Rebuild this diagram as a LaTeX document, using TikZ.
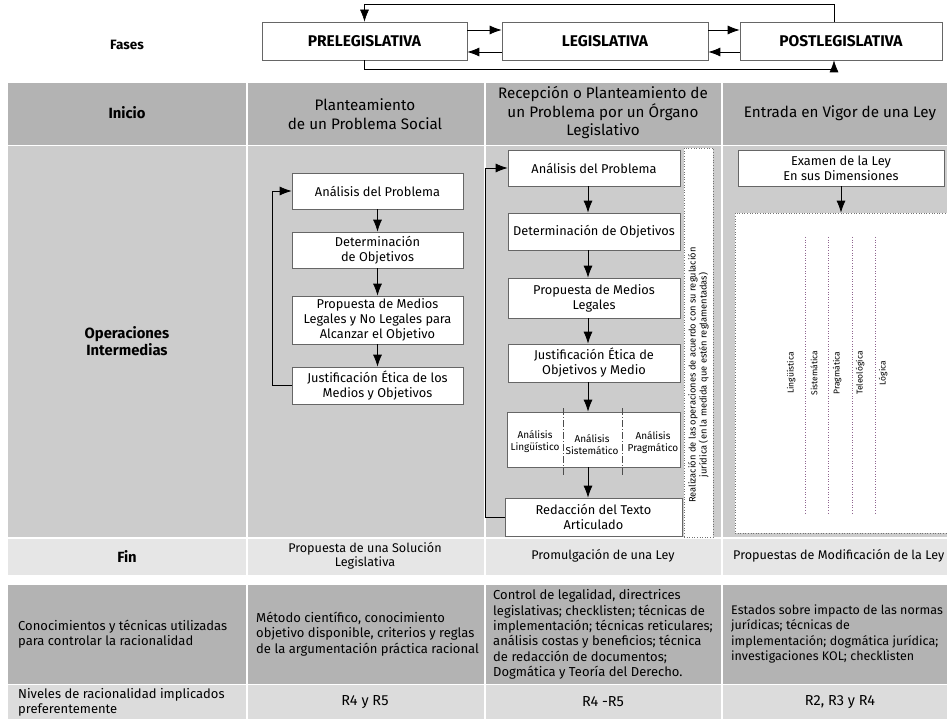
\documentclass[tikz,border=0pt]{standalone}
\usepackage{fontspec}
\setmainfont{Fira Sans}
\usetikzlibrary{arrows.meta}
\definecolor{hdr}{HTML}{B3B3B3}
\definecolor{ops}{HTML}{CCCCCC}
\definecolor{finc}{HTML}{E6E6E6}
\definecolor{nivc}{HTML}{DCDCDC}
\newcommand\fsz[2]{\fontsize{#1}{#2}\selectfont}
\begin{document}
\begin{tikzpicture}[x=1pt,y=-1pt,
  arr/.style={-{Latex[length=12pt,width=9pt]}, line width=0.8pt},
  phase/.style={draw=black!60, fill=white, line width=0.6pt, minimum height=38pt, inner sep=0pt, font=\fsz{15.5}{17}\bfseries},
  fbox/.style={draw=black!60, fill=white, line width=0.6pt, align=center, inner sep=0pt, font=\fsz{12.8}{15}},
  lblb/.style={font=\fsz{14.8}{17.5}\bfseries, align=center},
  hd/.style={font=\fsz{15.2}{18.5}, align=center},
  txt/.style={font=\fsz{13}{15.3}, align=left, inner sep=0pt},
  fint/.style={font=\fsz{12.6}{14}, align=center},
  rr/.style={font=\fsz{14.5}{16}},
  sm/.style={font=\fsz{8.5}{10}, align=center, rotate=90, inner sep=0pt},
  dotl/.style={draw=black!55, dotted, line width=0.6pt}
]
\useasboundingbox (0,0) rectangle (947,719);
\fill[white] (0,0) rectangle (947,719);
% table rows
\fill[hdr] (8,83) rectangle (947,145);
\fill[ops] (8,146.5) rectangle (947,537);
\fill[finc] (8,538.5) rectangle (947,575);
\fill[hdr] (8,585) rectangle (947,683.5);
\fill[nivc] (8,685) rectangle (947,719);
\foreach \cx in {247,485,722}{\draw[white, line width=1.5pt] (\cx,83) -- (\cx,575); \draw[white, line width=1.5pt] (\cx,585) -- (\cx,719);}

% phases
\node[font=\fsz{13.5}{16}\bfseries] (fases) at (127,45) {Fases};
\node[phase, minimum width=205pt] (p1) at (364.5,41) {PRELEGISLATIVA};
\node[phase, minimum width=206pt] (p2) at (605,41) {LEGISLATIVA};
\node[phase, minimum width=202pt] (p3) at (841,41) {POSTLEGISLATIVA};
\draw[arr] ([yshift=11pt]p1.east) -- ([yshift=11pt]p2.west);
\draw[arr] ([yshift=11pt]p2.east) -- ([yshift=11pt]p3.west);
\draw[arr] ([yshift=-11pt]p2.west) -- ([yshift=-11pt]p1.east);
\draw[arr] ([yshift=-11pt]p3.west) -- ([yshift=-11pt]p2.east);
\draw[arr, line width=0.6pt] ([xshift=-7pt]p3.north) -- ++(0,-17) -| (p1.north);
\draw[arr, line width=0.6pt] (p1.south) -- ++(0,9) -| ([xshift=-7pt]p3.south);

% row labels
\node[lblb] (inicio) at (127,113) {Inicio};
\node[lblb] (opsl) at (127,341) {Operaciones\\Intermedias};
\node[lblb] (finl) at (127,556) {Fin};
\node[txt, anchor=west] (conl) at (18,634) {Conocimientos y técnicas utilizadas\\para controlar la racionalidad};
\node[txt, anchor=west] (nivl) at (18,702) {Niveles de racionalidad implicados\\preferentemente};

% header row
\node[hd] (h2) at (365,114) {Planteamiento\\de un Problema Social};
\node[hd] (h3) at (603,113) {Recepción o Planteamiento de\\un Problema por un Órgano\\Legislativo};
\node[hd] (h4) at (840,113) {Entrada en Vigor de una Ley};

% column 2 flow
\node[fbox, minimum width=171pt, minimum height=36pt] (a1) at (377.5,191) {Análisis del Problema};
\node[fbox, minimum width=171pt, minimum height=36pt] (a2) at (377.5,250) {Determinación\\de Objetivos};
\node[fbox, minimum width=171pt, minimum height=48pt] (a3) at (377.5,320) {Propuesta de Medios\\Legales y No Legales para\\Alcanzar el Objetivo};
\node[fbox, minimum width=171pt, minimum height=37pt] (a4) at (377.5,385.5) {Justificación Ética de los\\Medios y Objetivos};
\draw[arr] (a1) -- (a2);
\draw[arr] (a2) -- (a3);
\draw[arr] (a3) -- (a4);
\draw[arr] (a4.west) -- ++(-19,0) |- (a1.west);

% column 3 flow
\node[fbox, minimum width=172pt, minimum height=36pt] (b1) at (594,168) {Análisis del Problema};
\node[fbox, minimum width=172pt, minimum height=37pt] (b2) at (594,231.5) {Determinación de Objetivos};
\node[fbox, minimum width=172pt, minimum height=40pt] (b3) at (594,298) {Propuesta de Medios\\Legales};
\node[fbox, minimum width=172pt, minimum height=38pt] (b4) at (594,363) {Justificación Ética de\\Objetivos y Medio};
\node[fbox, minimum width=173pt, minimum height=55pt] (b5) at (593.5,439.5) {};
\node[fbox, minimum width=177pt, minimum height=38pt] (b6) at (593.5,517) {Redacción del Texto\\Articulado};
\draw[black!70, line width=0.6pt, dash pattern=on 7pt off 2pt on 1pt off 2pt] (563,408) -- (563,475);
\draw[black!70, line width=0.6pt, dash pattern=on 7pt off 2pt on 1pt off 2pt] (622,408) -- (622,475);
\node[font=\fsz{10}{12}, align=center, inner sep=0pt] (s1) at (535,442) {Análisis\\Lingüístico};
\node[font=\fsz{10}{12}, align=center, inner sep=0pt] (s2) at (592,445) {Análisis\\Sistemático};
\node[font=\fsz{10}{12}, align=center, inner sep=0pt] (s3) at (653,443) {Análisis\\Pragmático};
\draw[arr] ([xshift=-6pt]b1.south) -- ([xshift=-6pt]b2.north);
\draw[arr] ([xshift=-6pt]b2.south) -- ([xshift=-6pt]b3.north);
\draw[arr] ([xshift=-6pt]b3.south) -- ([xshift=-6pt]b4.north);
\draw[arr] ([xshift=-6pt]b4.south) -- ([xshift=-5.5pt]b5.north);
\draw[arr] ([xshift=-5.5pt]b5.south) -- ([xshift=-5.5pt]b6.north);
\draw[arr] (b6.west) -- ++(-19,0) |- (b1.west);
\node[dotl, fill=white, minimum width=29pt, minimum height=389pt, inner sep=0pt] (rz) at (698.5,342.5) {};
\node[sm, font=\fsz{9.3}{11}] (rzt) at (698.5,375) {Realización de las operaciones de acuerdo con su regulación\\jurídica (en la medida que estén reglamentadas)};

% column 4
\node[fbox, minimum width=206pt, minimum height=36pt] (c1) at (841,168) {Examen de la Ley\\En sus Dimensiones};
\node[dotl, fill=white, minimum width=222pt, minimum height=320pt, inner sep=0pt] (c2) at (846,373) {};
\draw[arr] (c1.south) -- (c1.south |- c2.north);
\foreach \lx in {805,828,852,875}{\draw[draw=black!45!violet!60, dotted, line width=0.6pt] (\lx,237) -- (\lx,513);}
\node[sm] (d1) at (791,373) {Lingüística};
\node[sm] (d2) at (814,373) {Sistemática};
\node[sm] (d3) at (837,373) {Pragmática};
\node[sm] (d4) at (860,373) {Teleológica};
\node[sm] (d5) at (883,373) {Lógica};

% fin row
\node[fint] (f2) at (365,556) {Propuesta de una Solución\\Legislativa};
\node[fint] (f3) at (603,556) {Promulgación de una Ley};
\node[fint, anchor=west, inner sep=0pt] (f4) at (733,556) {Propuestas de Modificación de la Ley};

% conocimientos row
\node[txt, anchor=west] (k2) at (256,634) {Método científico, conocimiento\\objetivo disponible, criterios y reglas\\de la argumentación práctica racional};
\node[txt, anchor=west] (k3) at (493,634.5) {Control de legalidad, directrices\\legislativas; checklisten; técnicas de\\implementación; técnicas reticulares;\\análisis costas y beneficios; técnica\\de redacción de documentos;\\Dogmática y Teoría del Derecho.};
\node[txt, anchor=west, font=\fsz{12.5}{15.3}] (k4) at (731,634) {Estados sobre impacto de las normas\\jurídicas; técnicas de\\implementación; dogmática jurídica;\\investigaciones KOL; checklisten};

% niveles row
\node[rr] (r2) at (365,702) {R4 y R5};
\node[rr] (r3) at (603,702) {R4 -R5};
\node[rr] (r4) at (840,702) {R2, R3 y R4};
\end{tikzpicture}
\end{document}
